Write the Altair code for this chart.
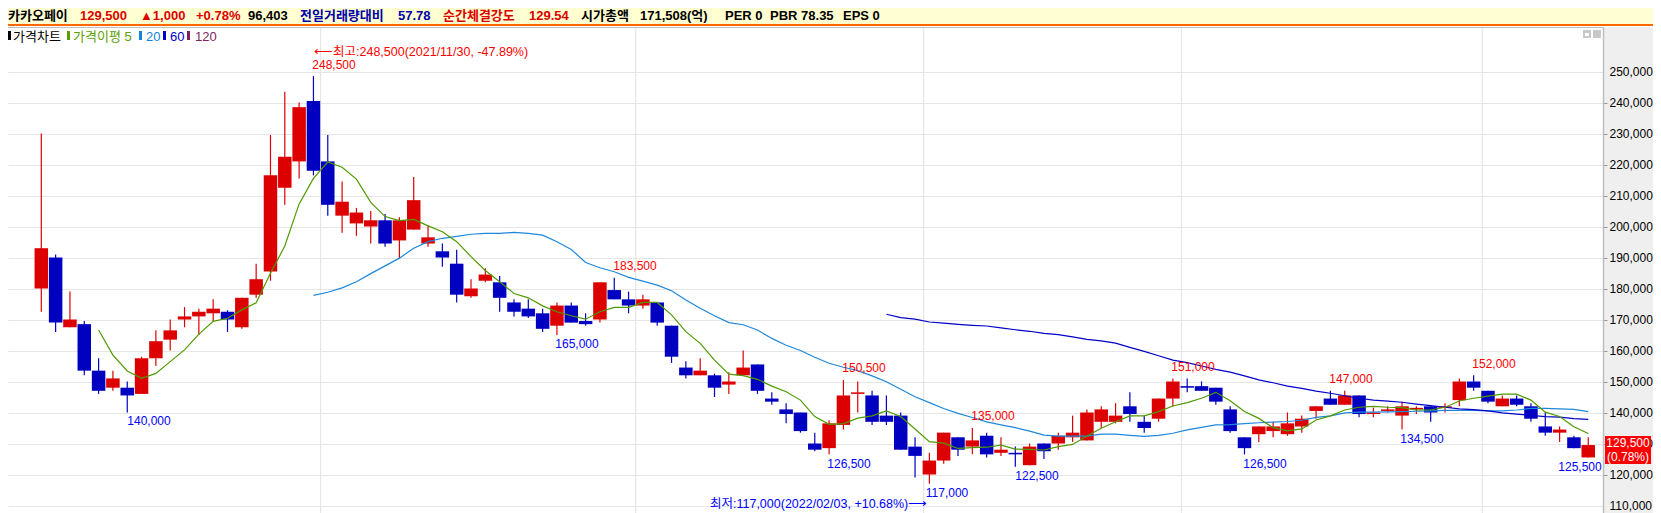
import altair as alt
import numpy as np
import pandas as pd

# daily candles
opens = [180000, 190000, 167500, 168500, 153500, 148000, 148000, 146000, 157500, 163500,
         170000, 171000, 172000, 172500, 167500, 178000, 185500, 212500, 221000, 240500,
         221000, 203500, 201000, 200000, 202000, 195500, 199000, 194500, 192000, 188000,
         177500, 182500, 182000, 175500, 173500, 172000, 168000, 174500, 169500, 170000,
         179500, 176500, 174500, 175500, 168000, 154500, 152000, 152000, 149000, 152000,
         155500, 144500, 141000, 140000, 130000, 128500, 136000, 146000, 145500, 139000,
         139000, 129000, 120000, 124500, 132000, 129000, 132500, 127000, 127000, 123000,
         130000, 130000, 132000, 131000, 137000, 137000, 142000, 137000, 138000, 144500,
         148500, 148500, 148000, 141000, 132000, 133000, 134000, 133000, 135500, 140500,
         144500, 142500, 145500, 139500, 140500, 139000, 141000, 142000, 141500, 144000,
         150000, 147000, 142000, 144500, 142000, 135500, 133500, 132000, 125500]
highs = [230000, 191000, 179000, 169500, 157500, 153500, 150000, 158000, 166500, 170000,
         174000, 173500, 176500, 173000, 177000, 188000, 229500, 243500, 240000, 248500,
         229500, 214500, 206000, 205000, 204000, 203000, 216000, 200500, 194500, 192500,
         183000, 186500, 184000, 176500, 176500, 173500, 175500, 175500, 172000, 182000,
         183500, 179000, 178000, 175500, 168000, 156500, 157500, 152500, 153000, 160000,
         155500, 146500, 143000, 140000, 133500, 137500, 150500, 150000, 147000, 145500,
         140000, 132000, 127000, 133500, 132000, 135000, 133500, 132000, 129000, 130000,
         130000, 133500, 139000, 141000, 142000, 143000, 146500, 139000, 144500, 151000,
         151000, 150000, 148000, 142000, 132000, 135500, 137000, 140000, 139000, 142000,
         147000, 147000, 145500, 141500, 142000, 143500, 142000, 142000, 143000, 151000,
         152000, 147000, 145500, 145500, 143000, 140000, 135500, 132500, 132000]
lows = [172500, 166000, 167500, 152000, 146000, 147000, 140000, 146000, 155000, 160000,
        167500, 165000, 169500, 166000, 167000, 177000, 182500, 207000, 215500, 216500,
        203500, 198000, 197000, 194500, 193500, 189500, 199000, 193500, 187000, 175500,
        177000, 182000, 172500, 171000, 170500, 166000, 165000, 169000, 168000, 169000,
        176500, 172000, 173500, 168000, 156000, 151000, 152000, 145000, 146000, 152000,
        146000, 142500, 136500, 133500, 127500, 126500, 134500, 140000, 136000, 136000,
        128000, 119000, 117000, 123500, 126000, 126500, 125500, 126000, 122500, 123000,
        125000, 128000, 130500, 131000, 135000, 136500, 137000, 133500, 137000, 142000,
        146500, 147000, 142500, 133500, 126500, 130500, 132000, 132500, 133500, 138000,
        142500, 142500, 138500, 138500, 140000, 134500, 139500, 137000, 140000, 142000,
        147000, 143000, 142000, 142000, 137000, 132500, 130500, 128500, 125500]
closes = [193000, 169000, 170000, 153500, 147000, 151000, 145500, 157500, 163000, 166500,
          171000, 172500, 173500, 170000, 177000, 183000, 216500, 222500, 238500, 218000,
          207000, 208000, 204500, 202000, 194500, 202000, 208500, 196500, 190000, 178000,
          180000, 184500, 177000, 172500, 171000, 167000, 174500, 169000, 168500, 182000,
          176500, 174500, 176500, 169000, 158000, 152000, 153500, 148000, 150000, 154500,
          147000, 143500, 139500, 134000, 128000, 136500, 145500, 146500, 137000, 137000,
          128000, 126000, 124500, 133500, 128000, 131000, 126500, 128000, 126500, 129000,
          127500, 132500, 133500, 140000, 141000, 139000, 139500, 135000, 144500, 150000,
          148000, 147000, 143500, 134000, 128500, 135500, 135500, 136500, 138000, 142000,
          142500, 145500, 139500, 140000, 141000, 142000, 141500, 140000, 142000, 150000,
          148000, 143500, 144500, 142500, 138000, 133500, 134500, 128500, 129500]

# moving averages, start at candle 4, 19 and 59
ma5 = [166600, 158500, 153400, 151000, 152600, 156400, 160200, 165300, 169400, 170400,
       173100, 175400, 184900, 193700, 207300, 215500, 220800, 219100, 215300, 207800,
       203200, 201900, 202300, 200200, 198300, 195100, 190300, 185800, 182200, 178400,
       177000, 174400, 172500, 171200, 170100, 172500, 173900, 173900, 175500, 175500,
       171500, 166100, 162300, 156900, 152400, 151900, 150700, 148500, 146700, 144000,
       138700, 136200, 136400, 138200, 138900, 140500, 138700, 134700, 130600, 130100,
       128400, 128700, 128800, 129500, 128200, 128100, 127900, 129000, 129700, 132400,
       134900, 137000, 138900, 138900, 140300, 142100, 143200, 144600, 146500, 143800,
       140300, 138100, 135100, 134100, 134700, 137600, 138900, 140800, 141700, 142000,
       141700, 141600, 140800, 140800, 141700, 143700, 144600, 145300, 145900, 145900,
       144000, 140100, 138700, 135400, 133200]
ma20 = [177800, 178800, 180200, 182200, 184800, 187300, 189800, 193000, 195100, 196200,
        196800, 197500, 197800, 197800, 198100, 197800, 197200, 195100, 192600, 188400,
        186700, 185400, 183600, 182400, 181100, 179300, 176300, 173600, 171200, 169000,
        168300, 166600, 163900, 161700, 160000, 157800, 155900, 154600, 153500, 151800,
        149900, 147500, 145100, 143200, 141300, 139700, 138400, 137000, 136000, 135100,
        134000, 132700, 132400, 132400, 132400, 133000, 133000, 132600, 132300, 132600,
        133300, 134400, 135200, 136000, 136100, 136400, 136700, 136900, 137100, 137500,
        138400, 138900, 139900, 140100, 140100, 140200, 140300, 140400, 140500, 140700,
        140700, 140700, 140500, 140500, 140800, 141300, 141300, 141200, 141000, 140300]
ma60 = [171700, 170600, 170100, 169200, 168800, 168400, 168100, 167900, 167300, 166700,
        166200, 165500, 165100, 164400, 163600, 163100, 162400, 161000, 159700, 158300,
        156900, 156100, 155000, 153900, 153000, 151800, 150500, 149600, 148500, 147800,
        146900, 146200, 145400, 144600, 144000, 143700, 143300, 142700, 142200, 141700,
        141200, 140900, 140500, 139900, 139500, 139100, 138700, 138500, 138000, 137800]

price_ticks = list(range(110000, 260000, 10000))
month_edges = [19.5, 41.5, 61.6, 79.6, 100.6]

RED = "#DD0000"
BLUE = "#0000C0"
TEXT_FONT = "Liberation Sans, Noto Sans CJK KR"

candles = pd.DataFrame({"i": range(len(opens)), "open": opens, "high": highs,
                        "low": lows, "close": closes})
candles["color"] = np.where(candles["close"] >= candles["open"], RED, BLUE)

x_scale = alt.Scale(domain=[-2.325, 109.03], nice=False, zero=False, padding=0)
y_scale = alt.Scale(domain=[107581, 264355], nice=False, zero=False)
x_enc = alt.X("i:Q", scale=x_scale, axis=None)


def y_enc(field):
    return alt.Y(field, scale=y_scale, axis=None)


def place_x(x):
    return x - 8


def place_y(y):
    return y - 27


def label(text, x, y, color, align="center", size=12, weight="normal"):
    return alt.Chart(alt.Data(values=[{"t": text}])).mark_text(
        align=align, baseline="middle", font=TEXT_FONT, fontSize=size,
        fontWeight=weight, color=color,
    ).encode(x=alt.value(place_x(x)), y=alt.value(place_y(y)), text="t:N")


def box(x1, y1, x2, y2, color):
    return alt.Chart(alt.Data(values=[{}])).mark_rect(color=color).encode(
        x=alt.value(place_x(x1)), x2=alt.value(place_x(x2)),
        y=alt.value(place_y(y1)), y2=alt.value(place_y(y2)),
    )


def ma_line(values, start, color):
    frame = pd.DataFrame({"i": range(start, start + len(values)), "v": values})
    return alt.Chart(frame).mark_line(color=color, strokeWidth=1.2).encode(
        x=x_enc, y=y_enc("v:Q")
    )


grid = alt.Chart(candles).mark_point(opacity=0).encode(
    x=x_enc,
    y=alt.Y("low:Q", scale=y_scale, title="", axis=alt.Axis(
        orient="right", values=price_ticks, labelExpr="floor(datum.value/1000)+',000'", grid=True,
        gridColor="#E6E6E6", gridWidth=1.2, domainColor="#BEBEBE", domainWidth=1.5,
        tickColor="#999999", tickSize=4, labelPadding=2, labelColor="#000000",
        labelFont="Liberation Sans", labelFontSize=12, labelOverlap=False,
        tickOpacity={"condition": {"test": "datum.value==250000||datum.value==110000", "value": 0}, "value": 1},
    )),
)
month_rules = alt.Chart(pd.DataFrame({"i": month_edges})).mark_rule(
    color="#E6E6E6", strokeWidth=1.2
).encode(x=x_enc)

wicks = alt.Chart(candles).mark_rule(strokeWidth=1.2).encode(
    x=x_enc,
    y=y_enc("low:Q"),
    y2="high:Q",
    color=alt.Color("color:N", scale=None),
)
bodies = alt.Chart(candles).mark_bar(size=13.5).encode(
    x=x_enc,
    y=y_enc("open:Q"),
    y2="close:Q",
    color=alt.Color("color:N", scale=None),
)

layers = [grid, month_rules, wicks, bodies,
          ma_line(ma20, 19, "#1E88DC"),
          ma_line(ma60, 59, "#0000C8"),
          ma_line(ma5, 4, "#4F9A00")]

# header strip
layers += [box(8, 8, 1653, 24, "#FFFFD2"), box(8, 24, 1653, 26, "#FF6600"),
           box(8, 26, 1653, 27, "#FFFFFF"), box(8, 27, 1603, 28, "#BEBEBE")]
head = [("카카오페이", 8, "#000000"), ("129,500", 80, RED), ("▲1,000", 140, RED),
        ("+0.78%", 196, RED), ("96,403", 248, "#000000"), ("전일거래량대비", 300, "#0000AA"),
        ("57.78", 398, "#0000AA"), ("순간체결강도", 443, RED), ("129.54", 529, RED),
        ("시가총액", 581, "#000000"), ("171,508(억)", 640, "#000000"), ("PER 0", 725, "#000000"),
        ("PBR 78.35", 770, "#000000"), ("EPS 0", 843, "#000000")]
for text, x, color in head:
    layers.append(label(text, x, 16, color, align="left", size=13, weight="bold"))

# legend row
legend = [("가격차트", 13, "#000000", 8), ("가격이평 5", 73, "#5AA000", 67),
          ("20", 146, "#0F84DE", 139), ("60", 170, "#0000C8", 163), ("120", 195, "#7F1F5F", 187)]
for text, x, color, mark_x in legend:
    layers.append(box(mark_x, 31, mark_x + 3, 40, color))
    layers.append(label(text, x, 37, color, align="left", size=13))

# window buttons
layers += [box(1583, 30, 1591, 38, "#C8C8C8"), box(1585, 33, 1589, 36, "#FFFFFF"),
           box(1593, 30, 1601, 38, "#C8C8C8")]

# high / low call-outs
highs_txt = [("248,500", 334, 65), ("183,500", 635, 266), ("150,500", 864, 368),
             ("135,000", 993, 416), ("151,000", 1193, 367), ("147,000", 1351, 379),
             ("152,000", 1494, 364)]
lows_txt = [("140,000", 149, 421), ("165,000", 577, 344), ("126,500", 849, 464),
            ("117,000", 947, 493), ("122,500", 1037, 476), ("126,500", 1265, 464),
            ("134,500", 1422, 439), ("125,500", 1580, 467)]
for text, x, y in highs_txt:
    layers.append(label(text, x, y, "#FF0000"))
for text, x, y in lows_txt:
    layers.append(label(text, x, y, "#0000FF"))
layers.append(label("⟵최고:248,500(2021/11/30, -47.89%)", 314, 52, "#FF0000", align="left", size=12.5))
layers.append(label("최저:117,000(2022/02/03, +10.68%)⟶", 710, 504, "#0000FF", align="left", size=12.5))

# current price tag
layers += [box(1605, 436, 1651, 464, "#FF0000"),
           label("129,500", 1628, 443, "#FFFFFF"),
           label("(0.78%)", 1628, 457, "#FFFFFF")]

chart = alt.layer(*layers).resolve_axis(y="independent").properties(
    width=1595,
    height=486,
    background="#EFEFEF",
    padding={"left": 0, "top": 19, "right": 50, "bottom": 0},
    autosize=alt.AutoSizeParams(type="none"),
).configure_view(fill="#FFFFFF", strokeWidth=0)

chart.save("out.html", embed_options={"renderer": "svg", "actions": False})
